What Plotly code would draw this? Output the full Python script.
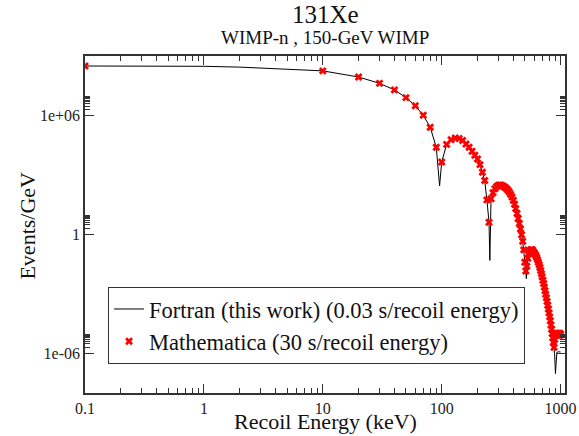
import plotly.graph_objects as go

# Mathematica evaluation points: recoil energy (keV) and differential rate (events/GeV)
mma_energy = [0.1, 10, 20, 30, 40, 50, 60, 70, 80, 90, 100,
              110, 120, 130, 140, 150, 160, 170, 180, 190, 200,
              210, 220, 230, 240, 250, 260, 270, 280, 290, 300,
              310, 320, 330, 340, 350, 360, 370, 380, 390, 400,
              410, 420, 430, 440, 450, 460, 470, 480, 490, 500,
              510, 520, 530, 540, 550, 560, 570, 580, 590, 600,
              610, 620, 630, 640, 650, 660, 670, 680, 690, 700,
              710, 720, 730, 740, 750, 760, 770, 780, 790, 800,
              810, 820, 830, 840, 850, 860, 870, 880, 890, 900,
              910, 920, 930, 940, 950, 960, 970, 980, 990, 1000]
mma_rate = [3.13e8, 1.78e8, 8.71e7, 4.17e7, 1.95e7, 7.94e6, 3.09e6, 1.02e6, 2.57e5, 2.51e4, 4.47e3,
            3.47e4, 6.03e4, 7.24e4, 6.92e4, 5.50e4, 3.63e4, 2.51e4, 1.58e4, 9.77e3, 6.31e3,
            3.31e3, 1.38e3, 525, 55.0, 4.07, 63.1, 126, 200, 263, 302,
            309, 295, 269, 240, 209, 174, 138, 105, 77.6, 52.5,
            33.1, 20.0, 11.5, 6.31, 3.55, 1.86, 0.955, 0.447, 0.166, 0.0398,
            0.0141, 0.0251, 0.0631, 0.105, 0.141, 0.162, 0.170, 0.166, 0.138, 0.120,
            0.100, 0.0832, 0.0676, 0.0525, 0.0398, 0.0295, 0.0214, 0.0151, 0.0105, 7.24e-3,
            4.90e-3, 3.31e-3, 2.19e-3, 1.45e-3, 9.55e-4, 6.31e-4, 4.17e-4, 2.69e-4, 1.74e-4, 1.10e-4,
            6.92e-5, 4.37e-5, 2.69e-5, 1.66e-5, 1.00e-5, 6.03e-6, 3.63e-6, 2.00e-6, 5.01e-6, 7.94e-6,
            1.00e-5, 8.91e-6, 1.05e-5, 8.32e-6, 1.00e-5, 8.91e-6, 1.05e-5, 7.94e-6, 1.00e-5, 8.91e-6]

# Fortran curve: recoil energy (keV) and rate (events/GeV), with extra samples at the form-factor zeros
fortran_energy = [0.1, 0.2, 0.5, 1, 2, 3, 5, 7, 10, 20, 30, 40, 50, 60, 70, 80, 90, 96, 100,
                  110, 120, 130, 140, 150, 160, 170, 180, 190, 200,
                  210, 220, 230, 240, 250, 254, 260, 270, 280, 290, 300,
                  310, 320, 330, 340, 350, 360, 370, 380, 390, 400,
                  410, 420, 430, 440, 450, 460, 470, 480, 490, 500,
                  510, 515, 520, 530, 540, 550, 560, 570, 580, 590, 600,
                  610, 620, 630, 640, 650, 660, 670, 680, 690, 700,
                  710, 720, 730, 740, 750, 760, 770, 780, 790, 800,
                  810, 820, 830, 840, 850, 860, 870, 880, 890, 905, 915, 930, 960, 1000]
fortran_rate = [3.13e8, 3.13e8, 3.10e8, 3.02e8, 2.75e8, 2.51e8, 2.19e8, 2.00e8, 1.78e8,
                8.71e7, 4.17e7, 1.95e7, 7.94e6, 3.09e6, 1.02e6, 2.57e5, 2.51e4, 282, 4.47e3,
                3.47e4, 6.03e4, 7.24e4, 6.92e4, 5.50e4, 3.63e4, 2.51e4, 1.58e4, 9.77e3, 6.31e3,
                3.31e3, 1.38e3, 525, 55.0, 4.07, 0.049, 63.1, 126, 200, 263, 302,
                309, 295, 269, 240, 209, 174, 138, 105, 77.6, 52.5,
                33.1, 20.0, 11.5, 6.31, 3.55, 1.86, 0.955, 0.447, 0.166, 0.0398,
                0.0141, 5.89e-3, 0.0251, 0.0631, 0.105, 0.141, 0.162, 0.170, 0.166, 0.138, 0.120,
                0.100, 0.0832, 0.0676, 0.0525, 0.0398, 0.0295, 0.0214, 0.0151, 0.0105, 7.24e-3,
                4.90e-3, 3.31e-3, 2.19e-3, 1.45e-3, 9.55e-4, 6.31e-4, 4.17e-4, 2.69e-4, 1.74e-4, 1.10e-4,
                6.92e-5, 4.37e-5, 2.69e-5, 1.66e-5, 1.00e-5, 6.03e-6, 3.63e-6, 2.00e-6, 1.00e-6,
                9.55e-8, 5.01e-7, 1.12e-6, 1.20e-6, 1.17e-6]

x_tickvals = [0.1, 1, 10, 100, 1000]
x_ticktext = ["0.1", "1", "10", "100", "1000"]
x_minor = [m * d for d in (0.1, 1, 10, 100) for m in range(2, 10)]
y_tickvals = [1e-6, 1, 1e6]
y_ticktext = ["1e-06", "1", "1e+06"]
y_minor = [m * d for d in (1e-6, 1, 1e6) for m in range(2, 10)]

FONT = "Liberation Serif"
AXIS = "#333333"

fig = go.Figure()
fig.add_trace(go.Scatter(
    x=fortran_energy, y=fortran_rate, mode="lines",
    line=dict(color="black", width=1),
    name="Fortran (this work) (0.03 s/recoil energy)",
))
fig.add_trace(go.Scatter(
    x=mma_energy, y=mma_rate, mode="markers",
    marker=dict(symbol="x", size=7, color="#ff0000", line=dict(width=0)),
    name="Mathematica (30 s/recoil energy)",
))

axis_common = dict(
    type="log", showgrid=False, zeroline=False, automargin=False,
    showline=True, linecolor=AXIS, linewidth=1.5, mirror="ticks",
    ticks="inside", ticklen=9, tickwidth=1.3, tickcolor=AXIS,
    tickfont=dict(family=FONT, size=16, color="#222222"),
    tickmode="array",
)

fig.update_layout(
    width=579, height=436,
    margin=dict(l=85, r=14, t=56, b=43),
    paper_bgcolor="white", plot_bgcolor="white",
    font=dict(family=FONT, color="#111111"),
    showlegend=True,
    legend=dict(
        x=0.048, y=0.315, xanchor="left", yanchor="top",
        bgcolor="white", bordercolor=AXIS, borderwidth=1,
        font=dict(family=FONT, size=22.5, color="#111111"),
        itemwidth=30, tracegroupgap=0,
    ),
    xaxis=dict(
        axis_common, range=[-1, 3.037],
        tickvals=x_tickvals, ticktext=x_ticktext,
        minor=dict(ticks="inside", ticklen=5, tickwidth=1, tickcolor=AXIS,
                   tickmode="array", tickvals=x_minor),
    ),
    yaxis=dict(
        axis_common, range=[-8, 9],
        tickvals=y_tickvals, ticktext=y_ticktext,
        minor=dict(ticks="inside", ticklen=5, tickwidth=1, tickcolor=AXIS,
                   tickmode="array", tickvals=y_minor),
    ),
    annotations=[
        dict(text="131Xe", xref="paper", yref="paper", x=0.5, y=1.123,
             xanchor="center", yanchor="middle", showarrow=False,
             font=dict(family=FONT, size=25, color="#111111")),
        dict(text="WIMP-n , 150-GeV WIMP", xref="paper", yref="paper", x=0.5, y=1.0555,
             xanchor="center", yanchor="middle", showarrow=False,
             font=dict(family=FONT, size=19, color="#111111")),
        dict(text="Recoil Energy (keV)", xref="paper", yref="paper", x=0.5, y=-0.084,
             xanchor="center", yanchor="middle", showarrow=False,
             font=dict(family=FONT, size=22, color="#111111")),
        dict(text="Events/GeV", xref="paper", yref="paper", x=-0.12, y=0.498,
             xanchor="center", yanchor="middle", showarrow=False, textangle=-90,
             font=dict(family=FONT, size=22, color="#111111")),
    ],
)

fig.write_html("out.html")
